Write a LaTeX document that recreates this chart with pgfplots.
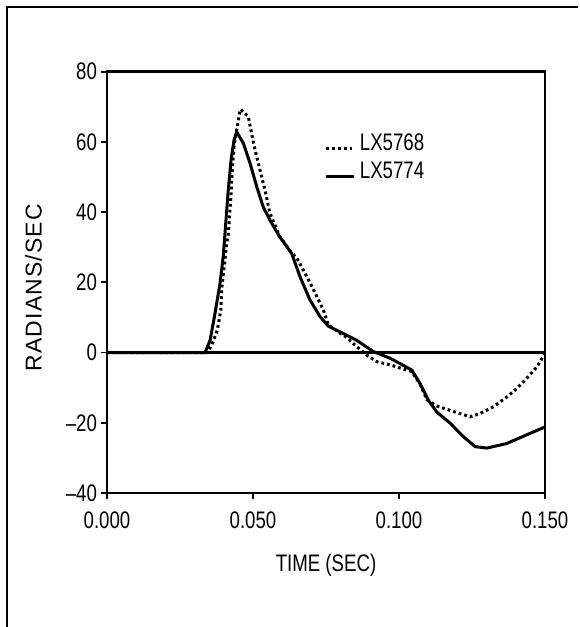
\documentclass[border=0pt]{standalone}
\usepackage{pgfplots}
\pgfplotsset{compat=1.18}
\usepackage{fontspec}
\setmainfont{Liberation Sans}
\newfontfamily\narrowsf[FakeStretch=0.78]{Liberation Sans}
\newfontfamily\labelsf[LetterSpace=5]{Liberation Sans}

\pgfplotstableread{
x y
0.000 0
0.0345 0
0.0364 3.2
0.0378 6.5
0.0390 12.2
0.0393 18.3
0.0404 26.4
0.0410 31.2
0.0416 34.0
0.0419 38.2
0.0424 44.0
0.0429 52.0
0.0435 58.6
0.0444 63.3
0.0455 68.6
0.0458 69.3
0.0484 67.2
0.0495 62.5
0.0507 57.7
0.0524 52.0
0.0541 46.3
0.0558 39.7
0.0592 33.0
0.0632 28.5
0.0650 26.9
0.0673 23.4
0.0695 19.9
0.0718 16.1
0.0741 12.1
0.0758 7.9
0.0790 6.0
0.0821 4.3
0.0855 1.7
0.0889 -0.7
0.0924 -2.6
0.0970 -3.5
0.1027 -5.0
0.1044 -5.4
0.1072 -9.0
0.1096 -13.5
0.1129 -15.2
0.1187 -16.8
0.1244 -18.3
0.1279 -17.3
0.1324 -15.4
0.1370 -12.6
0.1404 -10.2
0.1438 -7.3
0.1473 -4.0
0.1500 -0.2
}\dataA

\pgfplotstableread{
x y
0.000 0
0.0336 0
0.0353 3.5
0.0370 11.2
0.0387 19.7
0.0398 27.3
0.0405 35.0
0.0415 46.0
0.0425 55.0
0.0435 60.5
0.0444 62.9
0.0467 59.6
0.0490 53.9
0.0513 47.2
0.0535 41.5
0.0558 37.7
0.0592 32.9
0.0632 28.3
0.0661 21.6
0.0695 15.0
0.0730 10.2
0.0758 7.5
0.0798 5.9
0.0855 3.5
0.0912 0.3
0.0969 -1.6
0.0992 -2.6
0.1044 -5.0
0.1072 -8.8
0.1100 -13.5
0.1129 -16.9
0.1175 -20.1
0.1221 -24.0
0.1261 -26.8
0.1301 -27.2
0.1369 -25.9
0.1438 -23.4
0.1500 -21.2
}\dataB

\begin{document}
\begin{tikzpicture}[x=1bp,y=1bp]
\useasboundingbox (0,0) rectangle (290,313.5);
\draw[line width=1.4bp] (3.5,0) -- (3.5,310) -- (289,310);
\begin{axis}[
  at={(53.5bp,67bp)}, anchor=south west,
  width=219bp, height=210.65bp, scale only axis,
  xmin=0, xmax=0.15, ymin=-40, ymax=80,
  xtick={0,0.05,0.1,0.15}, xticklabels={0.000,0.050,0.100,0.150},
  ytick={-40,-20,0,20,40,60,80}, yticklabels={–40,–20,0,20,40,60,80},
  xtick pos=left, ytick pos=left,
  tick align=outside, major tick length=3bp,
  axis line style={line width=1.3bp},
  major tick style={line width=0.9bp, black},
  ticklabel style={font=\narrowsf\fontsize{12}{13}\selectfont},
  xticklabel style={yshift=-3bp},
  yticklabel style={xshift=1.5bp},
  xlabel={TIME (SEC)},
  xlabel style={font=\narrowsf\fontsize{12}{13}\selectfont, at={(axis description cs:0.5,-0.171)}, anchor=center},
  ylabel={RADIANS/SEC},
  ylabel style={font=\labelsf\fontsize{11.5}{13}\selectfont, at={(axis description cs:-0.168,0.487)}, anchor=center},
  legend style={at={(axis cs:0.0745,63.5)}, anchor=north west, draw=none, fill=none,
    font=\narrowsf\fontsize{12}{13}\selectfont, row sep=0bp, inner sep=0pt},
  legend cell align=left,
  legend image code/.code={\draw[#1] (-3bp,-2.5bp) -- (11bp,-2.5bp);},
]
\addplot[black, line width=1.5bp, forget plot] coordinates {(0,0) (0.15,0)};
\addplot[black, line width=1.5bp, dash pattern=on 1.4bp off 1.5bp] table[x=x,y=y] {\dataA};
\addlegendentry{LX5768}
\addplot[black, line width=1.5bp] table[x=x,y=y] {\dataB};
\addlegendentry{LX5774}
\end{axis}
\end{tikzpicture}
\end{document}
